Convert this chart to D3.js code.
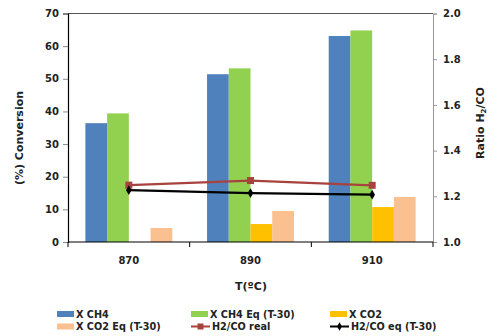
<!DOCTYPE html>
<html><head><meta charset="utf-8">
<script src="https://cdn.jsdelivr.net/npm/d3@7"></script>
<style>body{margin:0;background:#fff}svg{display:block}text{font-family:"DejaVu Sans",Verdana,sans-serif}</style>
</head><body><svg id="c" width="490" height="336"></svg>
<script>
const categories = ["870","890","910"];
const xCH4 = [36.4, 51.4, 63.1];
const xCH4Eq = [39.4, 53.2, 64.8];
const xCO2 = [0, 5.5, 10.7];
const xCO2Eq = [4.3, 9.5, 13.8];
const h2coReal = [1.249, 1.269, 1.248];
const h2coEq = [1.227, 1.214, 1.207];
const leftTicks = [0,10,20,30,40,50,60,70];
const rightTicks = [1.0,1.2,1.4,1.6,1.8,2.0];

const barSeries = [
  {name:"X CH4", values:xCH4, color:"#4F81BD"},
  {name:"X CH4 Eq (T-30)", values:xCH4Eq, color:"#92D050"},
  {name:"X CO2", values:xCO2, color:"#FFC000"},
  {name:"X CO2 Eq (T-30)", values:xCO2Eq, color:"#FAC090"}
];
const lineSeries = [
  {name:"H2/CO real", values:h2coReal, color:"#A8423F", marker:"square"},
  {name:"H2/CO eq (T-30)", values:h2coEq, color:"#000000", marker:"diamond"}
];

const svg = d3.select("#c");
const L=68, R=433, T=13.5, B=242;
const x = d3.scaleBand().domain(categories).range([L,R]).paddingInner(0).paddingOuter(0);
const inner = d3.scaleBand().domain(d3.range(barSeries.length)).range([0,x.bandwidth()]).paddingOuter(0.8).paddingInner(0);
const y = d3.scaleLinear().domain([0,70]).range([B,T]);
const y2 = d3.scaleLinear().domain([1.0,2.0]).range([B,T]);

svg.append("line").attr("x1",L).attr("x2",R).attr("y1",T).attr("y2",T).attr("stroke","#555").attr("stroke-width",1);

barSeries.forEach((s,i)=>{
  svg.append("g").selectAll("rect").data(s.values).join("rect")
    .attr("x",(d,j)=>x(categories[j])+inner(i))
    .attr("width",inner.bandwidth())
    .attr("y",d=>y(d)).attr("height",d=>B-y(d))
    .attr("fill",s.color);
});

const ax = svg.append("g").attr("transform",`translate(${L},0)`)
  .call(d3.axisLeft(y).tickValues(leftTicks).tickSize(5).tickPadding(4));
ax.select(".domain").attr("stroke","#000").attr("stroke-width",1.2);
ax.selectAll(".tick line").attr("stroke","#888");
ax.selectAll("text").attr("font-size",10).attr("font-weight","bold").attr("fill","#222");

const ar = svg.append("g").attr("transform",`translate(${R},0)`)
  .call(d3.axisRight(y2).tickValues(rightTicks).tickFormat(d3.format(".1f")).tickSize(4).tickPadding(6));
ar.select(".domain").attr("stroke","#999").attr("stroke-width",1);
ar.selectAll(".tick line").attr("stroke","#999");
ar.selectAll("text").attr("font-size",10).attr("font-weight","bold").attr("fill","#222");

const bx = svg.append("g").attr("transform",`translate(0,${B})`);
bx.append("line").attr("x1",L).attr("x2",R).attr("stroke","#000").attr("stroke-width",1.2);
const bounds = categories.map(c=>x(c)).concat([x(categories[categories.length-1])+x.bandwidth()]);
bx.selectAll(".tk").data(bounds).join("line").attr("x1",d=>d).attr("x2",d=>d).attr("y1",0).attr("y2",5).attr("stroke","#000");
bx.selectAll(".lb").data(categories).join("text")
  .attr("x",d=>x(d)+x.bandwidth()/2).attr("y",22).attr("text-anchor","middle")
  .attr("font-size",10).attr("font-weight","bold").attr("fill","#222").text(d=>d);

lineSeries.forEach(s=>{
  const line = d3.line().x((d,j)=>x(categories[j])+x.bandwidth()/2).y(d=>y2(d));
  svg.append("path").datum(s.values).attr("d",line).attr("fill","none").attr("stroke",s.color).attr("stroke-width",2.2);
  const g = svg.append("g");
  s.values.forEach((d,j)=>{
    const cx = x(categories[j])+x.bandwidth()/2, cy = y2(d);
    if(s.marker==="square") g.append("rect").attr("x",cx-3.5).attr("y",cy-3.5).attr("width",7).attr("height",7).attr("fill",s.color);
    else g.append("path").attr("d",d3.symbol(d3.symbolDiamond,28)()).attr("transform",`translate(${cx},${cy})`).attr("fill",s.color);
  });
});

svg.append("text").attr("transform","translate(23,138) rotate(-90)").attr("text-anchor","middle")
  .attr("font-size",11).attr("font-weight","bold").attr("fill","#222").text("(%) Conversion");
const rt = svg.append("text").attr("transform","translate(484,123) rotate(-90)").attr("text-anchor","middle")
  .attr("font-size",11).attr("font-weight","bold").attr("fill","#222");
rt.append("tspan").text("Ratio H");
rt.append("tspan").attr("font-size",7).attr("dy",2).text("2");
rt.append("tspan").attr("dy",-2).text("/CO");
svg.append("text").attr("x",251).attr("y",290).attr("text-anchor","middle")
  .attr("font-size",11).attr("font-weight","bold").attr("fill","#222").text("T(ºC)");

const legendItems = [
  {s:barSeries[0],type:"bar"},{s:barSeries[1],type:"bar"},{s:barSeries[2],type:"bar"},
  {s:barSeries[3],type:"bar"},{s:lineSeries[0],type:"line"},{s:lineSeries[1],type:"line"}
];
const colX = [57, 191, 330], rowY = [314, 326.5];
legendItems.forEach((it,k)=>{
  const cx = colX[k%3], cy = rowY[Math.floor(k/3)];
  const g = svg.append("g");
  if(it.type==="bar") g.append("rect").attr("x",cx).attr("y",cy-3).attr("width",17).attr("height",6).attr("fill",it.s.color);
  else {
    g.append("line").attr("x1",cx).attr("x2",cx+19).attr("y1",cy).attr("y2",cy).attr("stroke",it.s.color).attr("stroke-width",2);
    if(it.s.marker==="square") g.append("rect").attr("x",cx+6.5).attr("y",cy-3).attr("width",6).attr("height",6).attr("fill",it.s.color);
    else g.append("path").attr("d",d3.symbol(d3.symbolDiamond,20)()).attr("transform",`translate(${cx+9.5},${cy})`).attr("fill",it.s.color);
  }
  g.append("text").attr("x",cx+(it.type==="bar"?19:21)).attr("y",cy+3.5).attr("font-size",9.7).attr("font-weight","bold").attr("fill","#222").text(it.s.name);
});
</script></body></html>
